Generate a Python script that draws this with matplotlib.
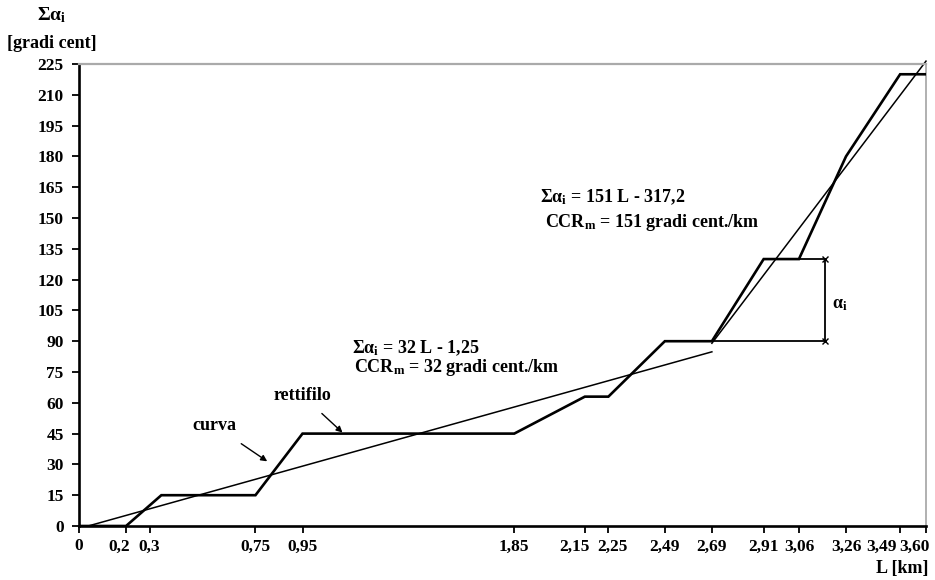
import matplotlib
matplotlib.use('Agg')
import matplotlib.pyplot as plt
from matplotlib.transforms import ScaledTranslation

plt.rcParams['font.family'] = ['Liberation Serif', 'DejaVu Serif']
plt.rcParams['font.weight'] = 'bold'
plt.rcParams['mathtext.fontset'] = 'custom'
plt.rcParams['mathtext.rm'] = 'Liberation Serif:bold'
plt.rcParams['mathtext.it'] = 'Liberation Serif:bold'
plt.rcParams['mathtext.bf'] = 'Liberation Serif:bold'

# cumulative deviation along the route (km, centesimal degrees)
L_km = [0, 0.2, 0.35, 0.75, 0.95, 1.85, 2.15, 2.25, 2.49, 2.69, 2.91, 3.06, 3.26, 3.49, 3.60]
sum_alpha = [0, 0, 15, 15, 45, 45, 63, 63, 90, 90, 130, 130, 180, 220, 220]

x_ticks = [0, 0.2, 0.3, 0.75, 0.95, 1.85, 2.15, 2.25, 2.49, 2.69, 2.91, 3.06, 3.26, 3.49, 3.60]
x_tick_labels = ['0', '0,2', '0,3', '0,75', '0,95', '1,85', '2,15', '2,25', '2,49', '2,69',
                 '2,91', '3,06', '3,26', '3,49', '3,60']
y_ticks = list(range(0, 226, 15))

# fitted lines: slope, intercept, range of L
fit1_slope, fit1_icpt, fit1_range = 32, -1.25, (0.04, 2.69)
fit2_slope, fit2_icpt, fit2_range = 151, -317.2, (2.69, 3.60)

# alpha_i bracket
bracket_L = 3.17
bracket_low, bracket_high = 90, 130

fig = plt.figure(figsize=(9.35, 5.8), dpi=100)
ax = fig.add_axes([79 / 935, 1 - 526 / 580, (926 - 79) / 935, (526 - 64) / 580])

ax.plot(L_km, sum_alpha, color='black', lw=1.9, solid_joinstyle='miter', zorder=3)

for s, c, (a, b) in [(fit1_slope, fit1_icpt, fit1_range), (fit2_slope, fit2_icpt, fit2_range)]:
    ax.plot([a, b], [s * a + c, s * b + c], color='black', lw=1.1, clip_on=False, zorder=2)

# bracket showing one deviation angle
ax.plot([2.49, bracket_L], [bracket_low, bracket_low], color='black', lw=1.3)
ax.plot([3.06, bracket_L], [bracket_high, bracket_high], color='black', lw=1.3)
ax.plot([bracket_L, bracket_L], [bracket_low, bracket_high], color='black', lw=1.3,
        marker='x', markersize=5, markeredgewidth=1.0)
ax.text(bracket_L + 0.03, 108, r'$\alpha_\mathrm{i}$', fontsize=13, va='center', ha='left')

ax.set_xlim(0, 3.60)
ax.set_ylim(0, 225)
ax.set_xticks(x_ticks)
ax.set_xticklabels(x_tick_labels)
ax.set_yticks(y_ticks)
ax.tick_params(axis='both', direction='out', length=5, width=1.3, labelsize=12.5, colors='black')
ax.tick_params(axis='x', pad=4)
ax.tick_params(axis='y', pad=6)
for lab in ax.get_xticklabels() + ax.get_yticklabels():
    lab.set_fontweight('bold')

# nudge crowded x labels apart
nudges = {'0,2': -7, '2,15': -10, '2,25': 4, '3,49': -19, '3,60': -12}
for lab in ax.get_xticklabels():
    dx = nudges.get(lab.get_text(), 0)
    if dx:
        lab.set_transform(lab.get_transform() + ScaledTranslation(dx / 100, 0, fig.dpi_scale_trans))

ax.spines['left'].set_linewidth(1.9)
ax.spines['bottom'].set_linewidth(1.9)
ax.spines['top'].set_color('#aaaaaa')
ax.spines['right'].set_color('#aaaaaa')
ax.spines['top'].set_linewidth(1.6)
ax.spines['right'].set_linewidth(1.3)

# equations of the two fitted lines
ax.text(1.96, 160, r'$\Sigma\alpha_\mathrm{i}$ = 151 L - 317,2', fontsize=13, va='center')
ax.text(1.98, 148, r'CCR$_\mathrm{m}$ = 151 gradi cent./km', fontsize=13, va='center')
ax.text(1.16, 86.7, r'$\Sigma\alpha_\mathrm{i}$ = 32 L - 1,25', fontsize=13, va='center')
ax.text(1.17, 77.4, r'CCR$_\mathrm{m}$ = 32 gradi cent./km', fontsize=13, va='center')

arrow = dict(arrowstyle='-|>', color='black', lw=1.0, mutation_scale=9)
ax.annotate('curva', xy=(0.80, 31.5), xytext=(0.575, 49), fontsize=13,
            ha='center', va='center', arrowprops=dict(arrow, shrinkA=9, shrinkB=0))
ax.annotate('rettifilo', xy=(1.12, 45.5), xytext=(0.95, 63.5), fontsize=13,
            ha='center', va='center', arrowprops=dict(arrow, shrinkA=7, shrinkB=0))

# axis titles
fig.text(52 / 935, 1 - 15 / 580, r'$\Sigma\alpha_\mathrm{i}$', fontsize=14, ha='center', va='center')
fig.text(52 / 935, 1 - 43 / 580, '[gradi cent]', fontsize=13, ha='center', va='center',
         fontweight='bold')
fig.text(928 / 935, 1 - 569 / 580, 'L [km]', fontsize=13, ha='right', va='center',
         fontweight='bold')

fig.savefig('out.png', dpi=100)
